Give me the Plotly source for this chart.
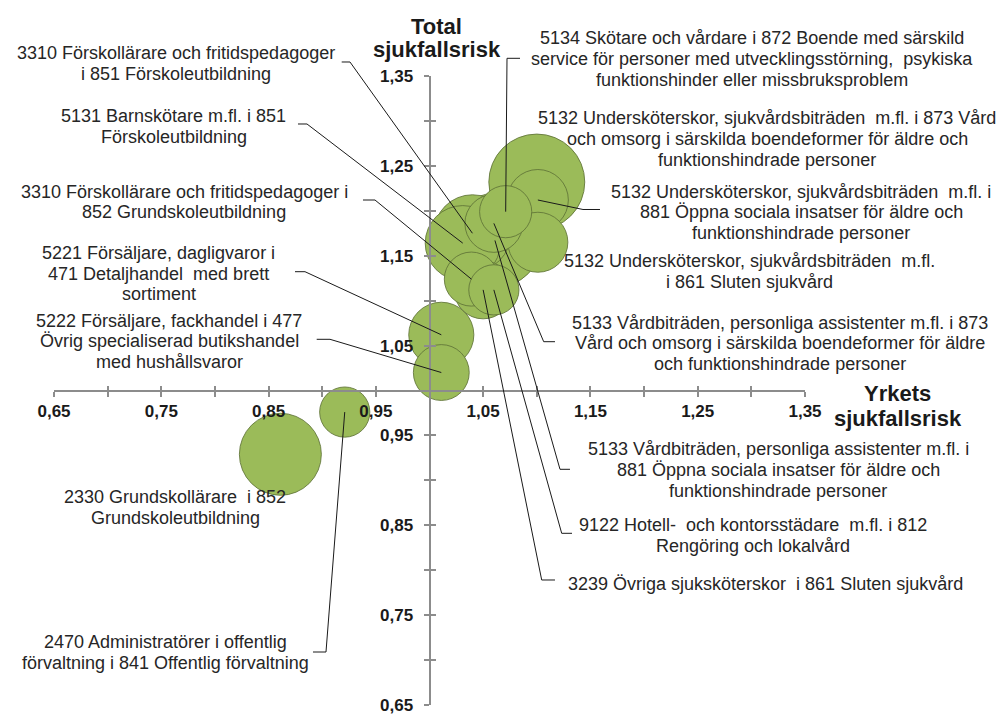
import plotly.graph_objects as go

# ---------------- data ----------------
labels = [
    "5132 Undersköterskor, sjukvårdsbiträden  m.fl. i 873 Vård<br>och omsorg i särskilda boendeformer för äldre och<br>funktionshindrade personer",
    "5132 Undersköterskor, sjukvårdsbiträden  m.fl. i<br>881 Öppna sociala insatser för äldre och<br>funktionshindrade personer",
    "5132 Undersköterskor, sjukvårdsbiträden  m.fl.<br>i 861 Sluten sjukvård",
    "5134 Skötare och vårdare i 872 Boende med särskild<br>service för personer med utvecklingsstörning,  psykiska<br>funktionshinder eller missbruksproblem",
    "5133 Vårdbiträden, personliga assistenter m.fl. i 873<br>Vård och omsorg i särskilda boendeformer för äldre<br>och funktionshindrade personer",
    "5133 Vårdbiträden, personliga assistenter m.fl. i<br>881 Öppna sociala insatser för äldre och<br>funktionshindrade personer",
    "3310 Förskollärare och fritidspedagoger<br>i 851 Förskoleutbildning",
    "5131 Barnskötare m.fl. i 851<br>Förskoleutbildning",
    "3310 Förskollärare och fritidspedagoger i<br>852 Grundskoleutbildning",
    "9122 Hotell-  och kontorsstädare  m.fl. i 812<br>Rengöring och lokalvård",
    "3239 Övriga sjuksköterskor  i 861 Sluten sjukvård",
    "5221 Försäljare, dagligvaror i<br>471 Detaljhandel  med brett<br>sortiment",
    "5222 Försäljare, fackhandel i 477<br>Övrig specialiserad butikshandel<br>med hushållsvaror",
    "2470 Administratörer i offentlig<br>förvaltning i 841 Offentlig förvaltning",
    "2330 Grundskollärare  i 852<br>Grundskoleutbildning",
]
yrkets_risk = [1.100, 1.101, 1.101, 1.071, 1.060, 1.061, 1.040, 1.031, 1.039,
               1.060, 1.050, 1.011, 1.011, 0.921, 0.861]
total_risk = [1.232, 1.212, 1.165, 1.199, 1.186, 1.167, 1.175, 1.164, 1.124,
              1.112, 1.112, 1.062, 1.020, 0.976, 0.929]
bubble_size = [23.0, 9.3, 9.0, 6.8, 8.4, 22.1, 14.8, 14.1, 7.3,
               6.3, 8.4, 10.6, 7.8, 6.3, 16.8]

x_tick_values = [0.65, 0.70, 0.75, 0.80, 0.85, 0.90, 0.95, 1.00,
                 1.05, 1.10, 1.15, 1.20, 1.25, 1.30, 1.35]
x_tick_labels = ["0,65", "", "0,75", "", "0,85", "", "0,95", "",
                 "1,05", "", "1,15", "", "1,25", "", "1,35"]
y_tick_values = x_tick_values
y_tick_labels = x_tick_labels

x_title = "Yrkets<br>sjukfallsrisk"
y_title = "Total<br>sjukfallsrisk"

# ---------------- layout geometry ----------------
W, H = 1003, 715
ML, MR, MT, MB = 54, 198, 76, 10
PW, PH = W - ML - MR, H - MT - MB
X_RANGE = [0.65, 1.35]
Y_RANGE = [0.65, 1.35]


def px2paper(px, py):
    return (px - ML) / PW, (H - MB - py) / PH


def data2paper(x, y):
    return ((x - X_RANGE[0]) / (X_RANGE[1] - X_RANGE[0]),
            (y - Y_RANGE[0]) / (Y_RANGE[1] - Y_RANGE[0]))


# label line centres: (centre x, [line y's]) in pixels
label_lines = [
    (767, [118.5, 139, 159.5]),
    (801, [191.5, 212, 233]),
    (749, [260.5, 281.5]),
    (752, [38.5, 59.5, 80]),
    (779.5, [323, 343.5, 364]),
    (778, [449, 470, 491]),
    (176, [53, 74]),
    (173.5, [116.5, 137]),
    (184, [191.5, 212]),
    (753, [525, 545.5]),
    (765, [583.5]),
    (158.5, [253, 273.5, 294]),
    (169, [320.5, 341.5, 362]),
    (165, [642, 662.5]),
    (175, [497, 517.5]),
]
# leader-line label-side points (pixels); bubble end comes from the data
leader_pts = [
    None,
    [(600, 209.5), (583, 209.5)],
    None,
    [(520, 58.3), (507, 58.3)],
    [(555, 341.7), (543.7, 341.7)],
    [(570, 469.3), (560, 469.3)],
    [(341.7, 62), (350, 62)],
    [(298, 124), (307, 124)],
    [(363, 200), (375, 200)],
    [(572, 533.3), (561.7, 533.3)],
    [(555, 580), (541.7, 580)],
    [(295, 271.7), (305, 271.7)],
    [(316.7, 339.3), (330, 339.3)],
    [(313, 652), (326, 652)],
    None,
]

AXIS_GRAY = "#8c8c8c"
FONT = "Liberation Sans, Arial, sans-serif"
LABEL_SIZE = 18
TITLE_SIZE = 22

# draw big bubbles first
order = sorted(range(len(bubble_size)), key=lambda i: -bubble_size[i])

fig = go.Figure()
fig.add_trace(go.Scatter(
    x=[yrkets_risk[i] for i in order],
    y=[total_risk[i] for i in order],
    mode="markers",
    marker=dict(
        size=[bubble_size[i] for i in order],
        sizemode="area",
        sizeref=0.005,
        color="#9bbb59",
        line=dict(color="rgba(95,115,55,0.85)", width=1),
        opacity=1,
    ),
    text=[labels[i].replace("<br>", " ") for i in order],
    hoverinfo="text",
    showlegend=False,
    cliponaxis=False,
))
# dummy trace for the overlay (inside-tick) axes
fig.add_trace(go.Scatter(x=[None], y=[None], xaxis="x2", yaxis="y2",
                         showlegend=False, hoverinfo="skip"))

shapes = []
for i, pts in enumerate(leader_pts):
    if not pts:
        continue
    bx, by = data2paper(yrkets_risk[i], total_risk[i])
    p = [px2paper(*q) for q in pts]
    path = "M {:.5f},{:.5f} L {:.5f},{:.5f} L {:.5f},{:.5f}".format(
        p[0][0], p[0][1], p[1][0], p[1][1], bx, by)
    shapes.append(dict(type="path", xref="paper", yref="paper", path=path,
                       line=dict(color="#1a1a1a", width=1), layer="above"))


def keep_spaces(s):
    return s.replace("  ", " \u00a0")


annotations = []
for i, (cx, ys) in enumerate(label_lines):
    parts = labels[i].split("<br>")
    for line, cy in zip(parts, ys):
        ax, ay = px2paper(cx, cy)
        annotations.append(dict(
            text=keep_spaces(line), x=ax, y=ay, xref="paper", yref="paper",
            xanchor="center", yanchor="middle", align="center", showarrow=False,
            font=dict(family=FONT, size=LABEL_SIZE, color="#262626"),
        ))

for title, cx, ys in [(y_title, 436.7, [26.7, 50]), (x_title, 897.5, [393.5, 419])]:
    for line, cy in zip(title.split("<br>"), ys):
        ax, ay = px2paper(cx, cy)
        annotations.append(dict(
            text="<b>" + line + "</b>", x=ax, y=ay, xref="paper", yref="paper",
            xanchor="center", yanchor="middle", showarrow=False,
            font=dict(family=FONT, size=TITLE_SIZE, color="#1a1a1a")))

x_pos = (1.0 - Y_RANGE[0]) / (Y_RANGE[1] - Y_RANGE[0])
y_pos = (1.0 - X_RANGE[0]) / (X_RANGE[1] - X_RANGE[0])

tickfont = dict(family=FONT, size=17, color="#1a1a1a", weight="bold")

fig.update_layout(
    width=W, height=H,
    margin=dict(l=ML, r=MR, t=MT, b=MB, pad=0),
    paper_bgcolor="white", plot_bgcolor="white",
    showlegend=False,
    xaxis=dict(range=X_RANGE, anchor="free", position=x_pos, side="bottom",
               showline=True, linecolor=AXIS_GRAY, linewidth=2,
               showgrid=False, zeroline=False,
               ticks="outside", ticklen=5, tickwidth=2, tickcolor=AXIS_GRAY,
               tickmode="array", tickvals=x_tick_values, ticktext=x_tick_labels,
               tickfont=tickfont, ticklabeloverflow="allow",
               automargin=False, fixedrange=True),
    yaxis=dict(range=Y_RANGE, anchor="free", position=y_pos, side="left",
               showline=True, linecolor=AXIS_GRAY, linewidth=2,
               showgrid=False, zeroline=False,
               ticks="outside", ticklen=5, tickwidth=2, tickcolor=AXIS_GRAY,
               tickmode="array", tickvals=y_tick_values, ticktext=y_tick_labels,
               tickfont=tickfont, ticklabelstandoff=7, ticklabeloverflow="allow",
               automargin=False, fixedrange=True),
    xaxis2=dict(range=X_RANGE, overlaying="x", anchor="free", position=x_pos,
                side="bottom", showline=False, showgrid=False, zeroline=False,
                ticks="inside", ticklen=5, tickwidth=2, tickcolor=AXIS_GRAY,
                tickmode="array", tickvals=x_tick_values, showticklabels=False,
                fixedrange=True),
    yaxis2=dict(range=Y_RANGE, overlaying="y", anchor="free", position=y_pos,
                side="left", showline=False, showgrid=False, zeroline=False,
                ticks="inside", ticklen=5, tickwidth=2, tickcolor=AXIS_GRAY,
                tickmode="array", tickvals=y_tick_values, showticklabels=False,
                fixedrange=True),
    shapes=shapes,
    annotations=annotations,
)

fig.write_html("out.html", config={"displayModeBar": False},
               post_script="document.body.style.margin='0px';")
